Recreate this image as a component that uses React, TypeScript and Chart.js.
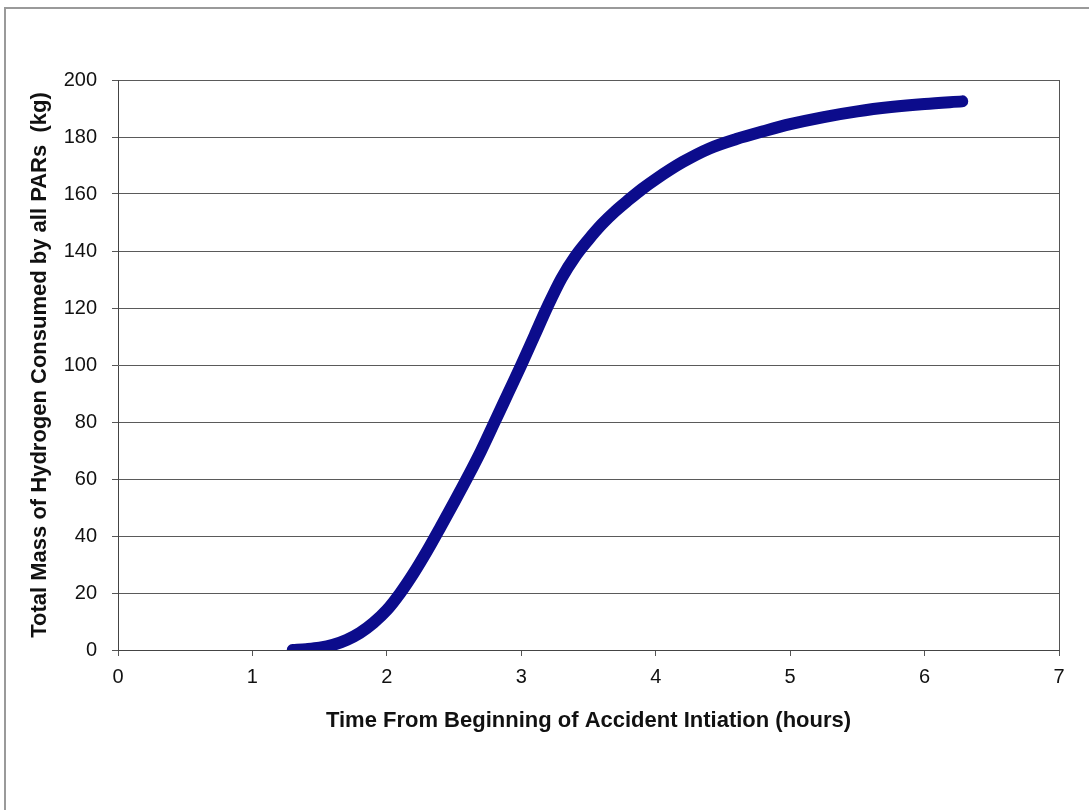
import React, { useEffect, useRef } from "react";
import { Chart, registerables } from "chart.js";

Chart.register(...registerables);

const timeHours = [1.3, 1.4, 1.5, 1.6, 1.7, 1.8, 1.9, 2.0, 2.1, 2.2, 2.3, 2.4, 2.5, 2.6, 2.7, 2.8, 2.9, 3.0, 3.1, 3.2, 3.3, 3.4, 3.5, 3.6, 3.7, 3.8, 3.9, 4.0, 4.2, 4.4, 4.6, 4.8, 5.0, 5.25, 5.5, 5.75, 6.0, 6.28];
const massKg = [0, 0.3, 0.8, 1.8, 3.5, 6, 9.5, 14, 20, 27, 34.8, 43.2, 51.8, 60.6, 69.8, 79.8, 89.9, 100, 110.5, 121, 130.5, 138, 144, 149.4, 154, 158, 161.8, 165.2, 171.2, 176, 179.3, 182, 184.5, 187, 189, 190.5, 191.6, 192.5];
const xTicks = [0, 1, 2, 3, 4, 5, 6, 7];
const yTicks = [0, 20, 40, 60, 80, 100, 120, 140, 160, 180, 200];

const xTitle = "Time From Beginning of Accident Intiation (hours)";
const yTitle = "Total Mass of Hydrogen Consumed by all PARs  (kg)";

const FONT = "'Liberation Sans', Arial, sans-serif";

export default function App() {
  const canvasRef = useRef<HTMLCanvasElement | null>(null);

  useEffect(() => {
    if (!canvasRef.current) return;
    const points = timeHours.map((t, i) => ({ x: t, y: massKg[i] }));
    const chart = new Chart(canvasRef.current, {
      type: "scatter",
      data: {
        datasets: [
          {
            data: points,
            showLine: true,
            borderColor: "#0c0c8c",
            backgroundColor: "#0c0c8c",
            borderWidth: 12,
            borderCapStyle: "round",
            borderJoinStyle: "round",
            pointRadius: 0,
            cubicInterpolationMode: "monotone",
          },
        ],
      },
      options: {
        responsive: false,
        animation: false,
        layout: { padding: { top: 80, right: 30, bottom: 70, left: 0 } },
        plugins: { legend: { display: false }, tooltip: { enabled: false } },
        scales: {
          x: {
            type: "linear",
            min: 0,
            max: 7,
            afterBuildTicks: (scale: any) => {
              scale.ticks = xTicks.map((v) => ({ value: v }));
            },
            afterFit: (scale: any) => {
              scale.height = 90;
            },
            ticks: {
              color: "#111",
              font: { family: FONT, size: 20 },
              padding: 9,
            },
            grid: {
              drawOnChartArea: true,
              color: (ctx: any) => (ctx.tick && ctx.tick.value === 7 ? "#555" : "rgba(0,0,0,0)"),
              tickColor: "#555",
              tickLength: 6,
            },
            border: { display: true, color: "#444", width: 1 },
            title: {
              display: true,
              text: xTitle,
              color: "#111",
              font: { family: FONT, size: 22, weight: "bold" },
              padding: { top: 0, bottom: 6 },
            },
          },
          y: {
            type: "linear",
            min: 0,
            max: 200,
            afterBuildTicks: (scale: any) => {
              scale.ticks = yTicks.map((v) => ({ value: v }));
            },
            afterFit: (scale: any) => {
              scale.width = 118;
            },
            ticks: {
              color: "#111",
              font: { family: FONT, size: 20 },
              padding: 15,
            },
            grid: {
              color: "#5a5a5a",
              tickColor: "#555",
              tickLength: 6,
            },
            border: { display: true, color: "#444", width: 1 },
            title: {
              display: true,
              text: yTitle,
              color: "#111",
              font: { family: FONT, size: 22, weight: "bold" },
              padding: { top: 27, bottom: 0 },
            },
          },
        },
      },
    });
    return () => chart.destroy();
  }, []);

  return (
    <div style={{ position: "fixed", left: 0, top: 0, width: 1089, height: 810, background: "#fff" }}>
      <canvas ref={canvasRef} width={1089} height={810} style={{ display: "block" }} />
      <div
        style={{
          position: "absolute",
          left: 4,
          top: 7,
          width: 1085,
          height: 803,
          borderTop: "2px solid #9a9a9a",
          borderLeft: "2px solid #9a9a9a",
          boxSizing: "border-box",
          pointerEvents: "none",
        }}
      />
    </div>
  );
}
